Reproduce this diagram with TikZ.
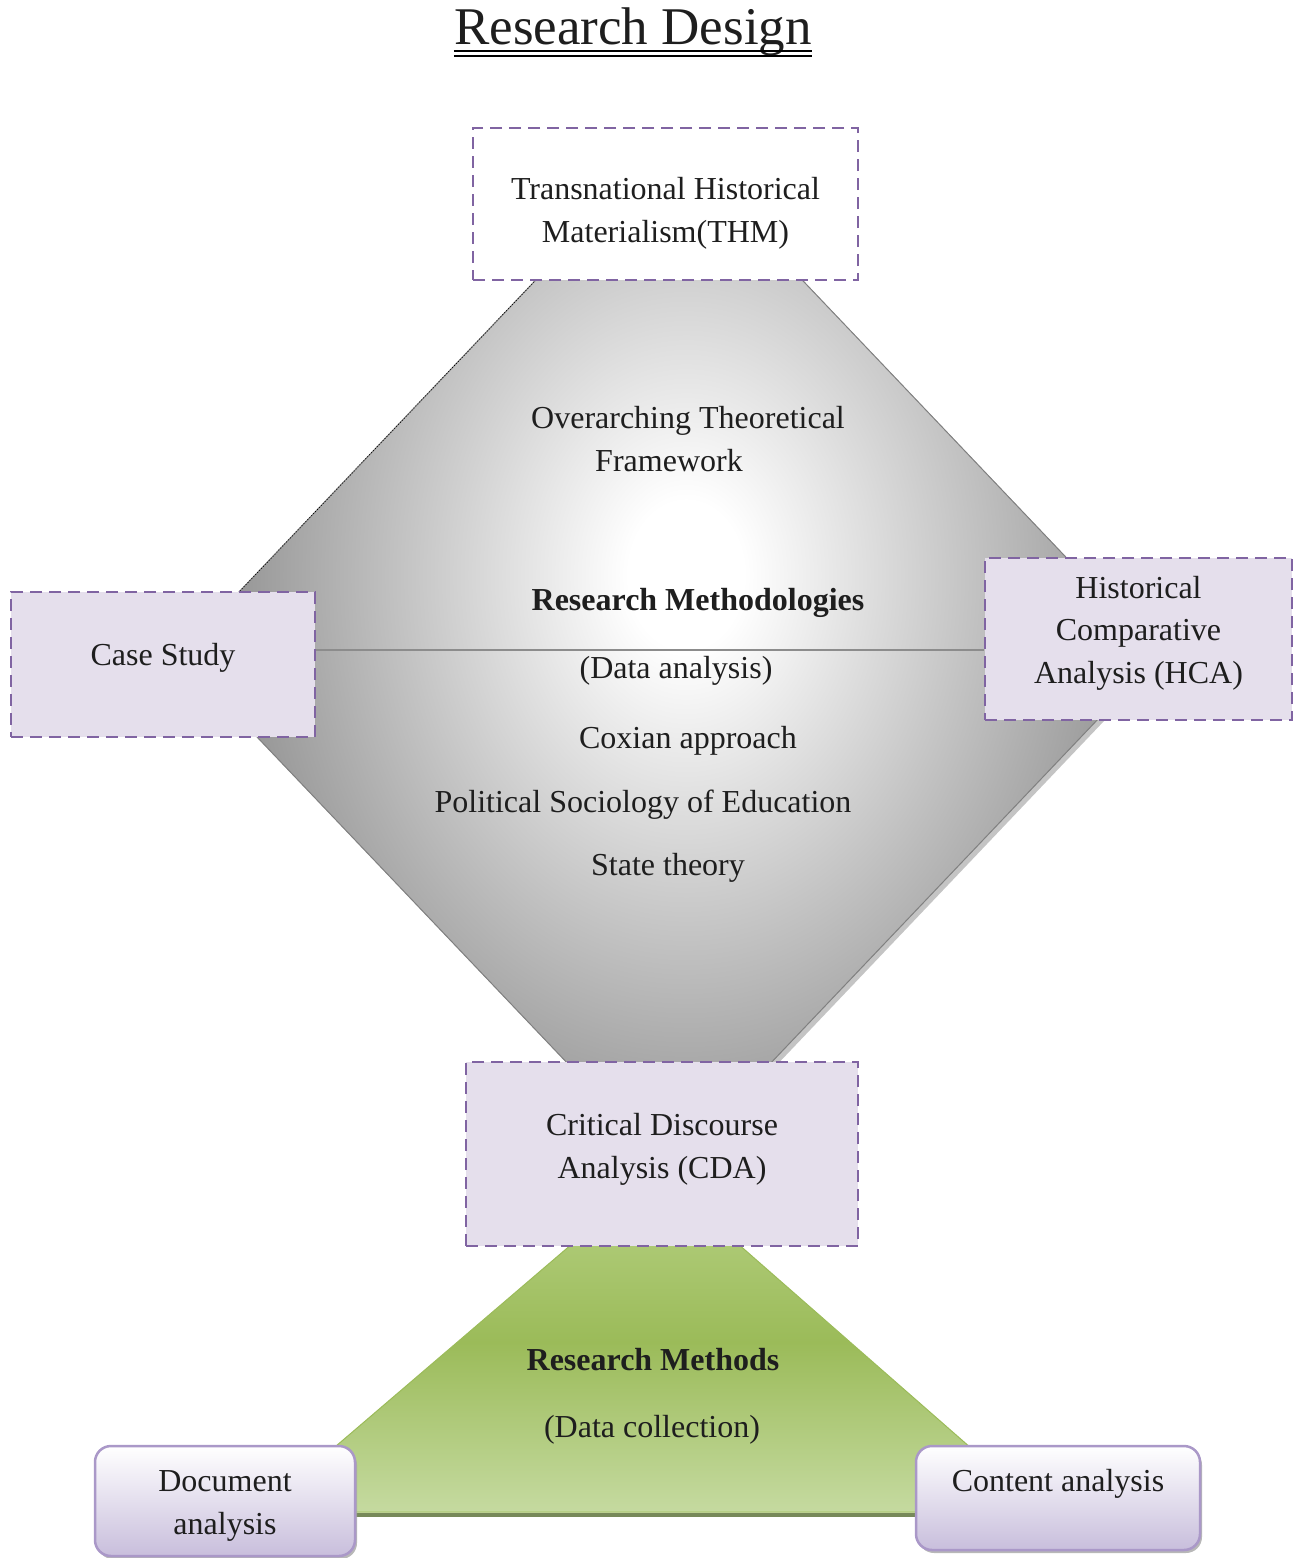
\documentclass[tikz,border=0pt]{standalone}
\usepackage{fontspec}
\setmainfont{Liberation Serif}
\usetikzlibrary{shadows}

\definecolor{boxpurple}{RGB}{128,100,162}
\definecolor{lavender}{RGB}{229,223,236}
\definecolor{diagray}{RGB}{152,152,152}
\definecolor{diaedge}{RGB}{128,128,128}
\definecolor{diashadow}{RGB}{196,196,196}
\definecolor{midline}{RGB}{140,140,140}
\definecolor{greentop}{RGB}{185,211,135}
\definecolor{greenmid}{RGB}{155,187,89}
\definecolor{greenbot}{RGB}{197,218,160}
\definecolor{greenline}{RGB}{119,137,90}
\definecolor{pillborder}{RGB}{170,152,200}
\definecolor{pillbottom}{RGB}{200,190,220}
\definecolor{ink}{RGB}{30,30,30}

% soft light spot for the central diamond
\pgfdeclareradialshading{glow}{\pgfpoint{0bp}{0bp}}{%
  color(0bp)=(white); color(2bp)=(white); color(15.5bp)=(diagray); color(50bp)=(diagray)}

\begin{document}
\begin{tikzpicture}[x=1pt,y=-1pt,
  every node/.style={font=\fontsize{32}{42.5}\selectfont, text=ink},
  label/.style={anchor=base, inner sep=0pt},
  dashbox/.style={draw=boxpurple, line width=2.8pt, dash pattern=on 12pt off 7pt,
    align=center, inner sep=0pt},
  pill/.style={draw=pillborder, line width=2.5pt, rounded corners=16pt,
    top color=white, bottom color=pillbottom, align=center, inner sep=0pt,
    drop shadow={shadow xshift=2pt, shadow yshift=-3pt, fill=gray!70, opacity=0.8}}]

\useasboundingbox (0,0) rectangle (1297,1558);

% title with double underline
\node[label, font=\fontsize{53}{60}\selectfont] (title) at (633,44) {Research Design};
\draw[line width=2pt] ([yshift=-7pt]title.base west) -- ([yshift=-7pt]title.base east);
\draw[line width=2pt] ([yshift=-12pt]title.base west) -- ([yshift=-12pt]title.base east);

% central diamond
\coordinate (dN) at (669,140);
\coordinate (dE) at (1159,655);
\coordinate (dS) at (669,1170);
\coordinate (dW) at (179,655);
\coordinate (mid) at (669,650);

\fill[diashadow, transform canvas={shift={(4pt,-4pt)}}] (dN) -- (dE) -- (dS) -- (dW) -- cycle;
\begin{scope}
  \clip (dN) -- (dE) -- (dS) -- (dW) -- cycle;
  \fill[diagray] (dW |- dN) rectangle (dE |- dS);
  \shade[shading=glow] (686,575) ellipse [x radius=720, y radius=920];
\end{scope}
\draw[diaedge, line width=1pt] (dN) -- (dE) -- (dS) -- (dW) -- cycle;
\draw[black, dotted, line width=0.8pt] (dN) -- (dW);

% research methods trapezoid
\coordinate (gN) at (656,1172);
\coordinate (gL) at (259,1512);
\coordinate (gR) at (1044,1512);
\shadedraw[draw=greenmid, line width=1pt, top color=greentop, bottom color=greenbot,
  middle color=greenmid] (gN) -- (gR) -- (gL) -- cycle;
\draw[greenline, line width=4pt] ([yshift=-3pt]gL) -- ([yshift=-3pt]gR);

% framed boxes (text height/depth place the last baseline)
\node[dashbox, fill=white, minimum width=385pt, minimum height=152pt,
  text height=86.5pt, text depth=10.5pt] (thm)
  at (665.5,204) {Transnational Historical\\Materialism(THM)};
\node[dashbox, fill=lavender, minimum width=304pt, minimum height=145pt,
  text height=22pt, text depth=21pt] (case)
  at (163,664.5) {Case Study};
\node[dashbox, fill=lavender, minimum width=307pt, minimum height=162pt,
  text height=98pt, text depth=10pt] (hca)
  at (1138.5,639) {Historical\\Comparative\\Analysis (HCA)};
\node[dashbox, fill=lavender, minimum width=392pt, minimum height=184pt,
  text height=58pt, text depth=10pt] (cda)
  at (662,1154) {Critical Discourse\\Analysis (CDA)};

\draw[midline, line width=2pt] (case.east |- mid) -- (hca.west |- mid);

% rounded method boxes
\node[pill, minimum width=260pt, minimum height=110pt,
  text height=74pt, text depth=8pt] (doc)
  at (225,1501) {Document\\analysis};
\node[pill, minimum width=284pt, minimum height=104pt,
  text height=23pt, text depth=37pt] (content)
  at (1058,1498) {Content analysis};

% texts inside the diamond
\node[label] (otf1) at (688,428) {Overarching Theoretical};
\node[label] (otf2) at (669,471) {Framework};
\node[label, font=\fontsize{32}{42.5}\selectfont\bfseries] (rm) at (698,610) {Research Methodologies};
\node[label] (da) at (676,678) {(Data analysis)};
\node[label] (cox) at (688,748) {Coxian approach};
\node[label] (pse) at (643,812) {Political Sociology of Education};
\node[label] (st) at (668,875) {State theory};

% texts inside the trapezoid
\node[label, font=\fontsize{32}{42.5}\selectfont\bfseries] (rmeth) at (653,1370) {Research Methods};
\node[label] (dc) at (652,1437) {(Data collection)};
\end{tikzpicture}
\end{document}
